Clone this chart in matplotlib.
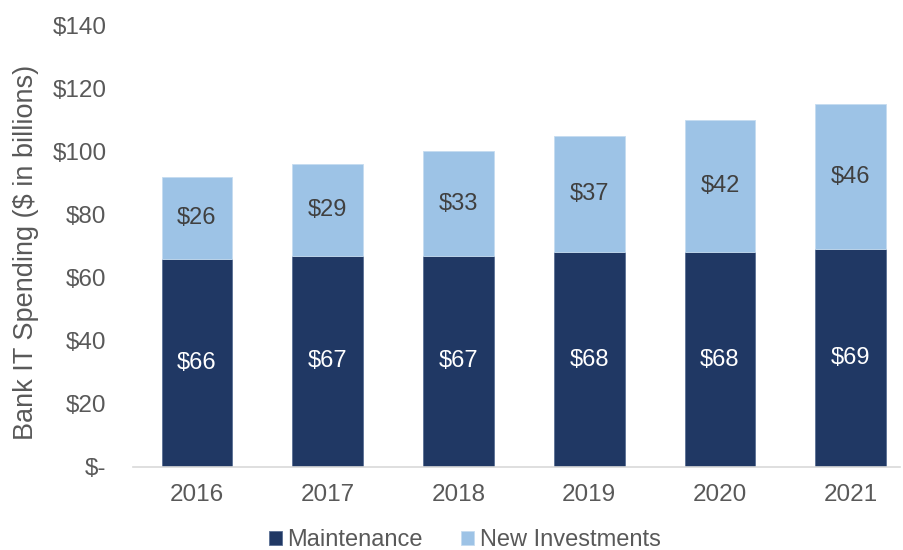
import matplotlib.pyplot as plt
import numpy as np

## Data
years = ['2016', '2017', '2018', '2019', '2020', '2021']
maintenance = [66, 67, 67, 68, 68, 69]
new_investments = [26, 29, 33, 37, 42, 46]

navy = '#203864'
light_blue = '#9dc3e6'
tick_gray = '#595959'

plt.rcParams['font.family'] = ['Liberation Sans', 'DejaVu Sans']

fig = plt.figure(figsize=(9.04, 5.5), dpi=100)
ax = fig.add_axes([0.147, 0.151, 0.849, 0.803])

x = np.arange(len(years))
w = 0.54

b1 = ax.bar(x, maintenance, w, color=navy, edgecolor='#5a6f94', linewidth=0.6,
            label='Maintenance')
b2 = ax.bar(x, new_investments, w, bottom=maintenance, color=light_blue,
            edgecolor='#c5dcf0', linewidth=0.6, label='New Investments')

# Segment labels
for xi, m, n in zip(x, maintenance, new_investments):
    ax.text(xi, m / 2, f'${m}', ha='center', va='center', color='white', fontsize=17)
    ax.text(xi, m + n / 2, f'${n}', ha='center', va='center', color='#404040', fontsize=17)

ax.set_xlim(-0.49, 5.38)
ax.set_ylim(0, 140)
ax.set_yticks(range(0, 141, 20))
ax.set_yticklabels(['$-'] + [f'${v}' for v in range(20, 141, 20)])
ax.set_xticks(x)
ax.set_xticklabels(years)
ax.tick_params(axis='both', length=0, labelsize=17.5, colors=tick_gray)
ax.tick_params(axis='y', pad=19)
ax.tick_params(axis='x', pad=12)

for s in ['top', 'right', 'left']:
    ax.spines[s].set_visible(False)
ax.spines['bottom'].set_color('#d9d9d9')
ax.spines['bottom'].set_linewidth(1.2)

ax.set_ylabel('Bank IT Spending ($ in billions)', fontsize=19.5, color=tick_gray)
ax.yaxis.set_label_coords(-0.1226, 0.486)

fig.legend(handles=[b1, b2], loc='center', bbox_to_anchor=(0.514, 0.018), ncol=2,
           frameon=False, fontsize=17, handlelength=0.55, handleheight=0.55,
           handletextpad=0.25, columnspacing=1.6, labelcolor=tick_gray)

fig.savefig('out.png', dpi=100)
